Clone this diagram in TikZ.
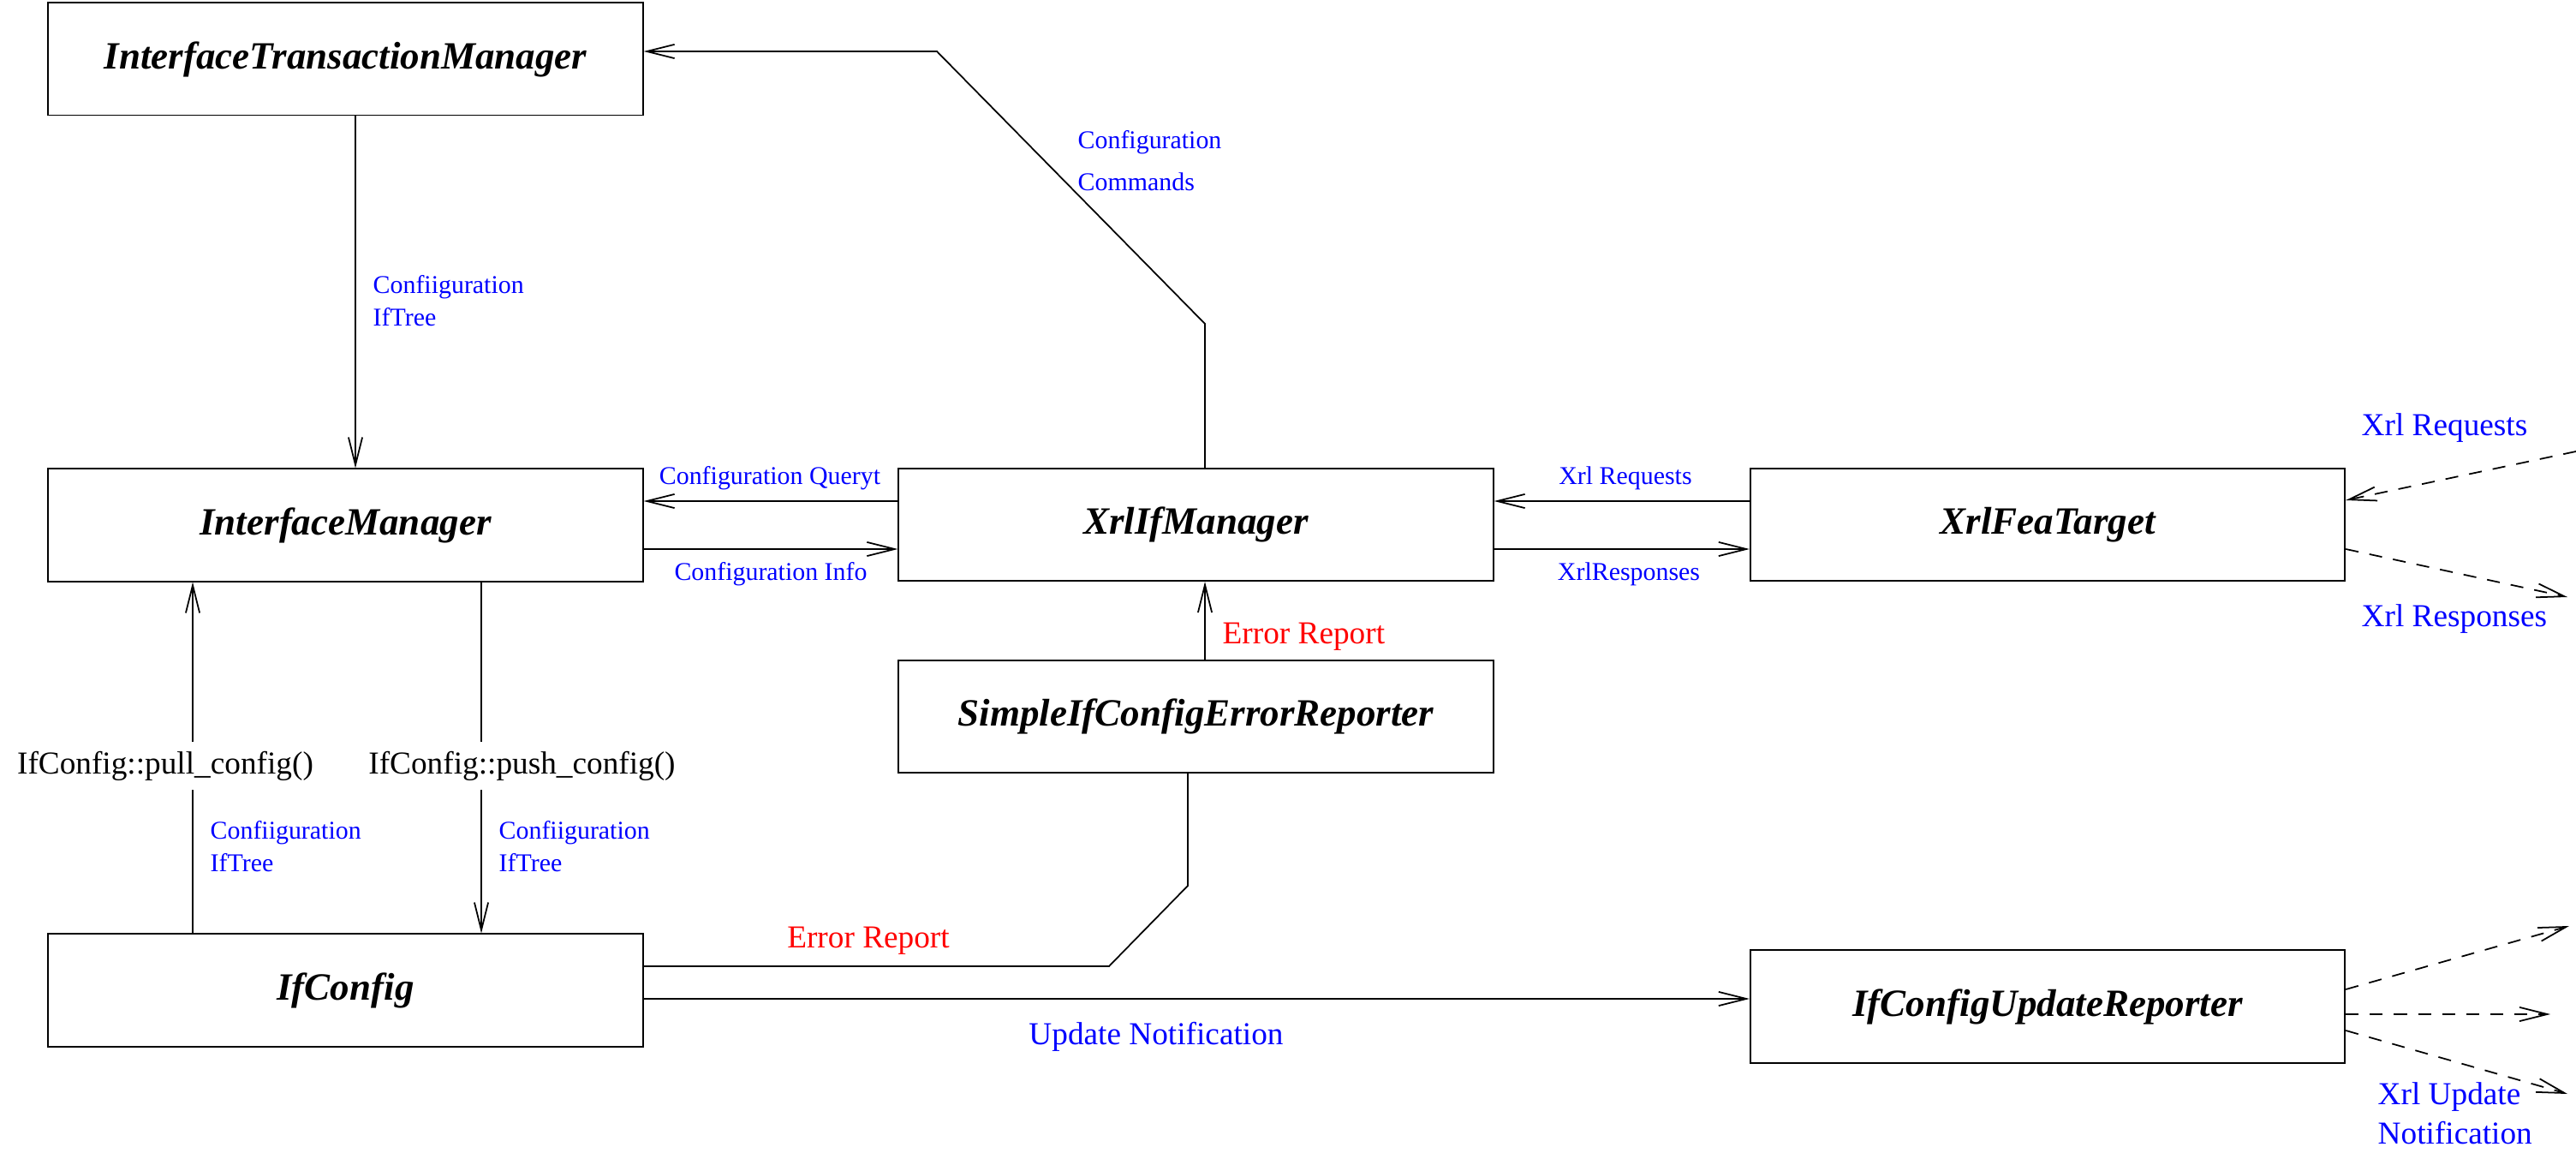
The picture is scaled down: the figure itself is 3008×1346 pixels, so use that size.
\documentclass[tikz,border=0pt]{standalone}
\usepackage{fontspec}
\setmainfont{Liberation Serif}
\usetikzlibrary{arrows.meta}
\begin{document}
\begin{tikzpicture}[x=0.01cm,y=-0.01cm,
  box/.style={draw,line width=0.55pt,minimum width=6.94cm,minimum height=1.31cm,inner sep=0pt,
    font=\fontsize{12.8}{15}\selectfont\bfseries\itshape},
  conn/.style={line width=0.5pt},
  arr/.style={conn,-{Straight Barb[length=9.2pt,width=4.6pt]}},
  darr/.style={arr,dash pattern=on 4.3pt off 3.7pt},
  sml/.style={inner sep=0pt,text=blue,font=\fontsize{8.5}{10.8}\selectfont},
  smlw/.style={inner sep=0pt,text=blue,font=\fontsize{8.5}{14}\selectfont},
  mid/.style={inner sep=0pt,font=\fontsize{10.6}{13.7}\selectfont}]
\path[fill=white,use as bounding box] (0,0) rectangle (3008,1346);

% boxes
\node[box] (ITM) at (403.5,69) {InterfaceTransactionManager};
\node[box] (IM) at (403.5,613) {InterfaceManager};
\node[box] (IC) at (403.5,1156) {IfConfig};
\node[box] (XIM) at (1396.5,612.5) {XrlIfManager};
\node[box] (SR) at (1396.5,836.5) {SimpleIfConfigErrorReporter};
\node[box] (XFT) at (2391,612.5) {XrlFeaTarget};
\node[box] (UR) at (2391,1175) {IfConfigUpdateReporter};

% helper coordinates
\coordinate (xa) at (415,0);
\coordinate (xb) at (1407,0);
\coordinate (k1) at (1407,378);
\coordinate (k2) at (1094,60);
\coordinate (yq) at (0,585);
\coordinate (yi) at (0,641);
\coordinate (e1) at (1295,1128);
\coordinate (e2) at (1387,1034);
\coordinate (yu) at (0,1166);
\coordinate (xp) at (225,0);
\coordinate (xs) at (562,0);

% connectors
\draw[arr] (ITM.south -| xa) -- (IM.north -| xa);
\draw[arr] (XIM.north -| xb) -- (k1) -- (k2) -- (ITM.east |- k2);
\draw[arr] (XIM.west |- yq) -- (IM.east |- yq);
\draw[arr] (IM.east |- yi) -- (XIM.west |- yi);
\draw[arr] (XFT.west |- yq) -- (XIM.east |- yq);
\draw[arr] (XIM.east |- yi) -- (XFT.west |- yi);
\draw[arr] (SR.north -| xb) -- (XIM.south -| xb);
\draw[conn] (IC.east |- e1) -- (e1) -- (e2) -- (SR.south -| e2);
\draw[arr] (IC.east |- yu) -- (UR.west |- yu);

% pull / push
\node[mid,inner ysep=3pt] (pull) at (193,894) {IfConfig::pull\_config()};
\draw[conn] (IC.north -| xp) -- (pull.south -| xp);
\draw[arr] (pull.north -| xp) -- (IM.south -| xp);
\node[mid,inner ysep=3pt] (push) at (609.5,894) {IfConfig::push\_config()};
\draw[conn] (IM.south -| xs) -- (push.north -| xs);
\draw[arr] (push.south -| xs) -- (IC.north -| xs);

% dashed external
\coordinate (d1) at (3008,527);
\coordinate (d1y) at (0,584);
\coordinate (d2) at (2998,697);
\coordinate (u1) at (3000,1081);
\coordinate (u1y) at (0,1155);
\coordinate (u2) at (2978,1184);
\coordinate (u3) at (2998,1277);
\coordinate (u3y) at (0,1203);
\draw[darr] (d1) -- (XFT.east |- d1y);
\draw[darr] (XFT.east |- yi) -- (d2);
\draw[darr] (UR.east |- u1y) -- (u1);
\draw[darr] (UR.east |- u2) -- (u2);
\draw[darr] (UR.east |- u3y) -- (u3);

% labels
\node[sml,anchor=west,align=left] (l1) at (435,351) {Confiiguration\\IfTree};
\node[smlw,anchor=west,align=left] (l2) at (1258,187.5) {Configuration\\Commands};
\node[sml] (l3) at (899,558) {Configuration Queryt};
\node[sml] (l4) at (900,670) {Configuration Info};
\node[sml] (l5) at (1898,558) {Xrl Requests};
\node[sml] (l6) at (1902,670) {XrlResponses};
\node[sml,anchor=west,align=left] (l7) at (245,988) {Confiiguration\\IfTree};
\node[sml,anchor=west,align=left] (l8) at (582,988) {Confiiguration\\IfTree};
\node[mid,text=red,anchor=west] (l9) at (1427,743) {Error Report};
\node[mid,text=red] (l10) at (1014,1098) {Error Report};
\node[mid,text=blue] (l11) at (1350,1210) {Update Notification};
\node[mid,text=blue,anchor=west] (l12) at (2757,500) {Xrl Requests};
\node[mid,text=blue,anchor=west] (l13) at (2757,723) {Xrl Responses};
\node[mid,text=blue,anchor=west,align=left,font=\fontsize{10.6}{13}\selectfont] (l14) at (2776,1300) {Xrl Update\\Notification};
\end{tikzpicture}
\end{document}
